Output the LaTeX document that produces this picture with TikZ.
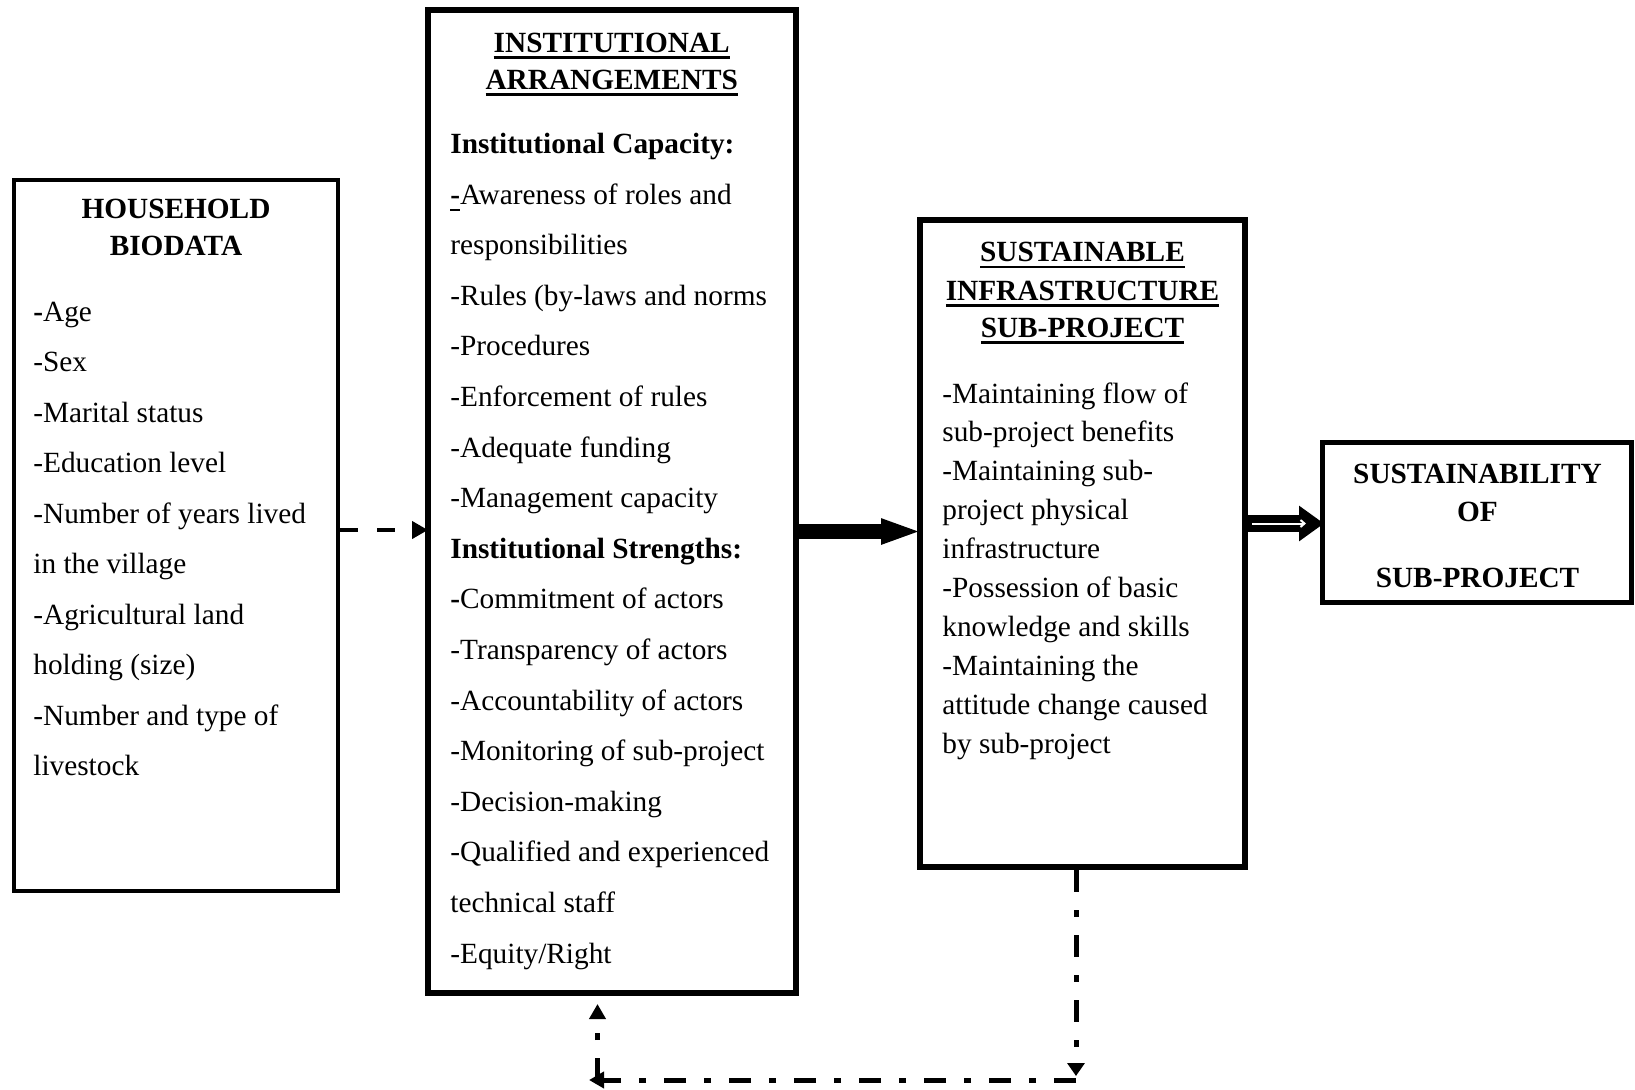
\documentclass[tikz,border=0pt]{standalone}
\usepackage{fontspec}
\setmainfont{Liberation Serif}
\usetikzlibrary{arrows.meta}
\newcommand\myul[1]{\vtop{\hbox{\raisebox{0pt}[\height][0pt]{#1}}\kern2.2pt\hrule height 1.1pt}}
\tikzset{
  txt/.style={font=\fontsize{14.65}{17}\selectfont, inner sep=0pt, anchor=base west},
  hdr/.style={font=\fontsize{14.65}{17}\selectfont\bfseries, inner sep=0pt, anchor=base},
  box/.style={draw, rectangle, inner sep=0pt},
  dd/.style={line width=2.5pt, dash pattern=on 11pt off 9pt on 3.5pt off 9pt}
}
\begin{document}
\begin{tikzpicture}[x=0.5pt, y=-0.5pt]
\useasboundingbox (0,0) rectangle (1635,1089);
\fill[white] (0,0) rectangle (1635,1089);

% boxes
\node[box, line width=2pt, minimum width=162pt, minimum height=355.75pt] (hh) at (176,535.25) {};
\node[box, line width=3pt, minimum width=183.75pt, minimum height=491.5pt] (inst) at (611.75,501.5) {};
\node[box, line width=3pt, minimum width=162.5pt, minimum height=323.5pt] (sust) at (1082.5,543.5) {};
\node[box, line width=2.5pt, minimum width=154.25pt, minimum height=80pt] (sus2) at (1476.75,522.5) {};

% household text
\node[hdr] (hhh1) at (176,218.3) {HOUSEHOLD};
\node[hdr] (hhh2) at (176,255) {BIODATA};
\foreach \t [count=\i] in {{\textbf{-}Age}, -Sex, -Marital status, -Education level,
  -Number of years lived, in the village, -Agricultural land, holding (size),
  -Number and type of, livestock}
  \node[txt] (hh-\i) at (33,{321.3+(\i-1)*50.5}) {\t};

% institutional text
\node[hdr] (ih1) at (611.75,52) {\myul{INSTITUTIONAL}};
\node[hdr] (ih2) at (611.75,89) {\myul{ARRANGEMENTS}};
\foreach \t [count=\i] in {{\textbf{Institutional Capacity:}}, {\myul{\textbf{-}}Awareness of roles and},
  responsibilities, -Rules (by-laws and norms, -Procedures, -Enforcement of rules,
  -Adequate funding, -Management capacity, {\textbf{Institutional Strengths:}},
  {\textbf{-}Commitment of actors}, -Transparency of actors, -Accountability of actors,
  -Monitoring of sub-project, -Decision-making, -Qualified and experienced,
  technical staff, -Equity/Right}
  \node[txt] (in-\i) at (450,{153.5+(\i-1)*50.6}) {\t};

% sustainable infrastructure text
\node[hdr] (sh1) at (1082.5,261.5) {\myul{SUSTAINABLE}};
\node[hdr] (sh2) at (1082.5,300) {\myul{INFRASTRUCTURE}};
\node[hdr] (sh3) at (1082.5,337) {\myul{SUB-PROJECT}};
\foreach \t [count=\i] in {-Maintaining flow of, sub-project benefits, -Maintaining sub-,
  project physical, infrastructure, -Possession of basic, knowledge and skills,
  -Maintaining the, attitude change caused, by sub-project}
  \node[txt] (su-\i) at (942,{403+(\i-1)*38.9}) {\t};

% sustainability text
\node[hdr] (th1) at (1477.5,483) {SUSTAINABILITY};
\node[hdr] (th2) at (1477.5,521.5) {OF};
\node[hdr] (th3) at (1477.5,587) {SUB-PROJECT};

% connectors
\coordinate (ya) at (0,530);
\draw[line width=2pt, dash pattern=on 9pt off 9.5pt, shorten >=-1.5pt, -{Triangle[length=8pt,width=8.5pt]}]
  (hh.east |- ya) -- (inst.west |- ya);

\coordinate (yb) at (0,531.5);
\draw[line width=7.5pt, shorten >=-2.5pt, -{Triangle[length=20.5pt,width=11.5pt]}]
  (inst.east |- yb) -- (sust.west |- yb);

\coordinate (yc) at (0,523.5);
\draw[line width=8.5pt, shorten >=-2pt, -{Triangle[length=12.5pt,width=17pt]}]
  (sust.east |- yc) -- (sus2.west |- yc);
\path (sust.east |- yc) ++(2pt,0) coordinate (w1);
\path (sus2.west |- yc) ++(-7pt,0) coordinate (w2);
\draw[white, line width=1pt, -{Straight Barb[length=2pt,width=3.5pt]}] (w1) -- (w2);

\coordinate (c1) at (1076,1080);
\coordinate (c2) at (589,1080);
\coordinate (c3) at (597.5,1080);
\draw[dd, -{Triangle[length=6.5pt,width=8.5pt]}] (sust.south -| c1) -- ([yshift=2pt]c1);
\draw[dd, -{Triangle[length=7.5pt,width=8pt]}] (c1) -- (c2);
\draw[dd, -{Triangle[length=7.5pt,width=8pt]}, shorten >=4pt] (c3) -- (inst.south -| c3);
\end{tikzpicture}
\end{document}
